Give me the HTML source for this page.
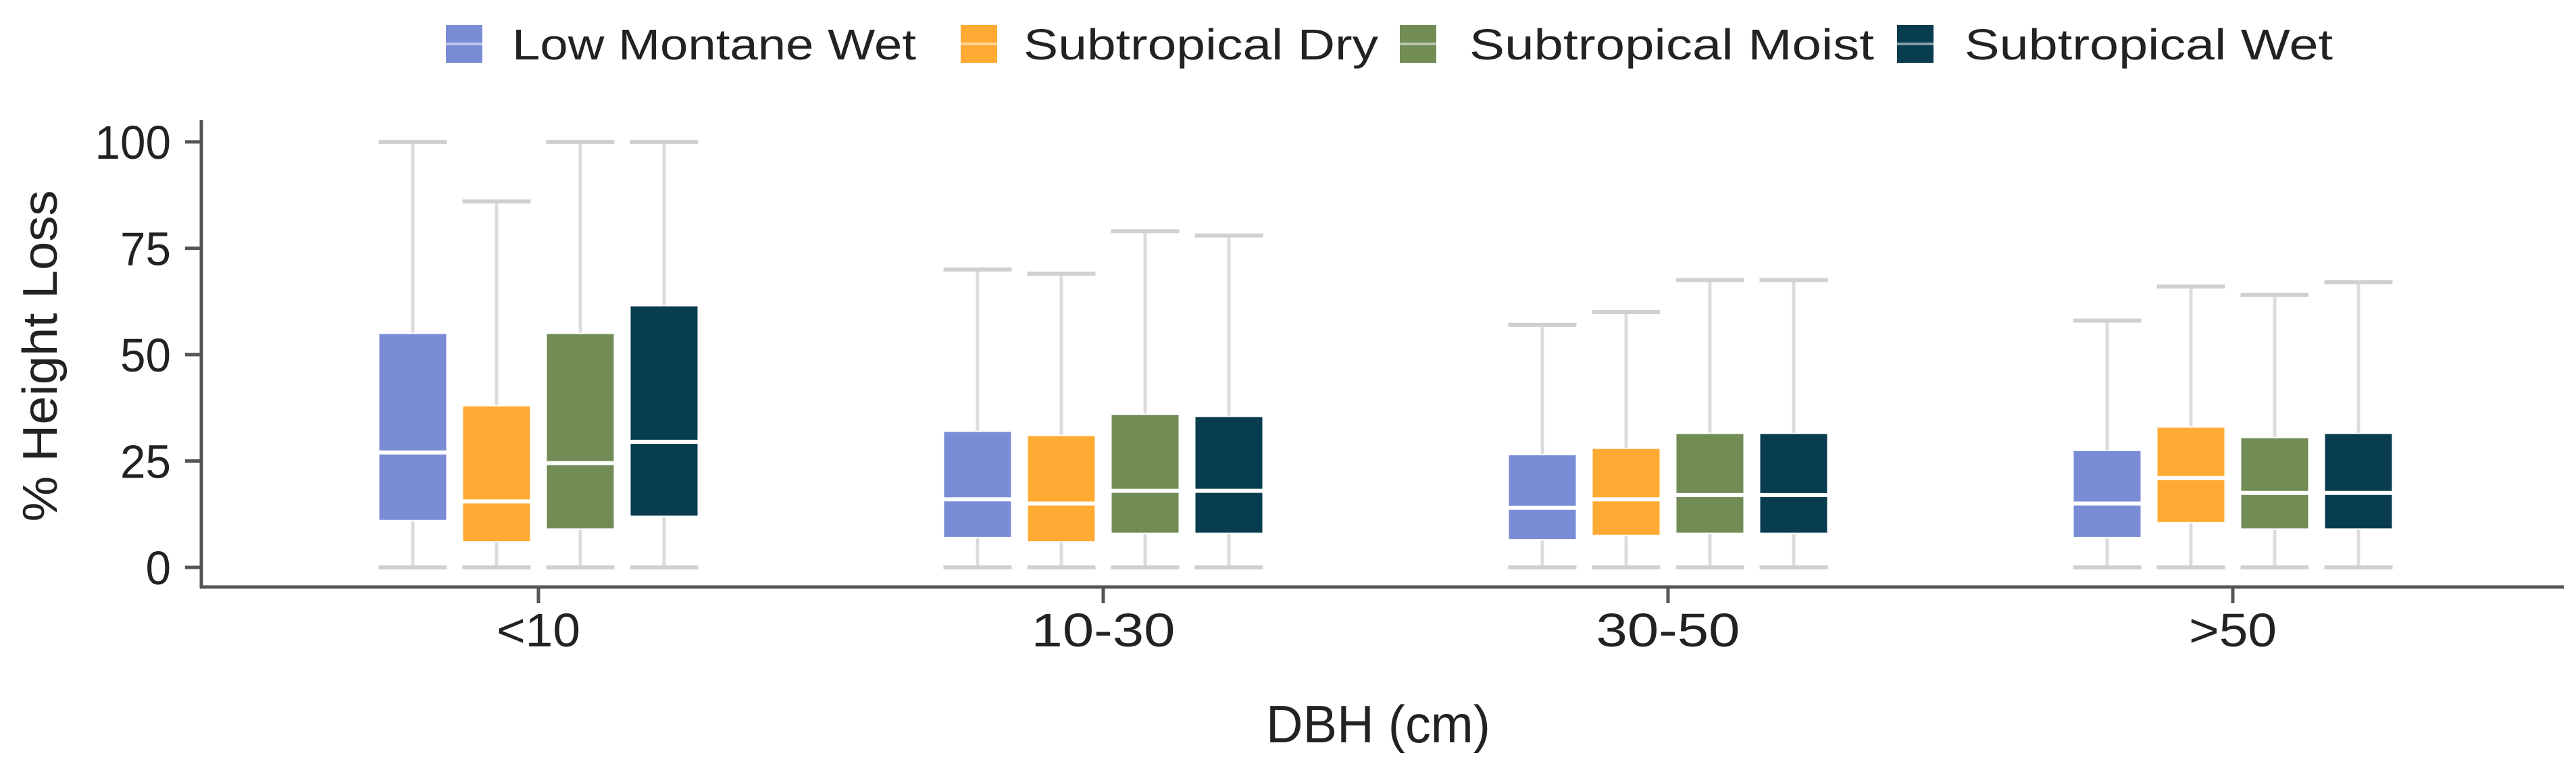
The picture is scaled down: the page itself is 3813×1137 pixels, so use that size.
<!DOCTYPE html>
<html><head><meta charset="utf-8"><style>html,body{margin:0;padding:0;background:#fff;overflow:hidden}svg{display:block}text{font-family:"Liberation Sans",Arial,sans-serif;fill:#222}</style></head>
<body>
<svg id="chart" width="3813" height="1137" viewBox="0 0 3813 1137" xmlns="http://www.w3.org/2000/svg">
<g id="legend"></g>
<g id="axes"></g>
<g id="boxes"></g>
</svg>
<script>
const categories = ["<10","10-30","30-50",">50"];
const seriesNames = ["Low Montane Wet","Subtropical Dry","Subtropical Moist","Subtropical Wet"];
const yTicks = [0,25,50,75,100];
// [whiskerLow, q1, median, q3, whiskerHigh] per category for each series
const lowMontaneWet = [[0,11,27,55,100],[0,7,16,32,70],[0,6.5,14,26.5,57],[0,7,15,27.5,58]];
const subtropicalDry = [[0,6,15.5,38,86],[0,6,15,31,69],[0,7.5,16,28,60],[0,10.5,21,33,66]];
const subtropicalMoist = [[0,9,24.5,55,100],[0,8,18,36,79],[0,8,17,31.5,67.5],[0,9,17.5,30.5,64]];
const subtropicalWet = [[0,12,29.5,61.5,100],[0,8,18,35.5,78],[0,8,17,31.5,67.5],[0,9,17.5,31.5,67]];
const seriesData = [lowMontaneWet, subtropicalDry, subtropicalMoist, subtropicalWet];
const colors = ["#7B8CD6","#FFAB33","#728C56","#083D4F"];

const NS="http://www.w3.org/2000/svg";
function mk(tag, attrs, parent){const e=document.createElementNS(NS,tag);for(const k in attrs)e.setAttribute(k,attrs[k]);parent.appendChild(e);return e;}
const y = v => 840 - v*6.3;
const xCat = i => 797 + i*836;
const offsets=[-186,-62,62,186];
const bw=101;
const axes=document.getElementById('axes');
const boxes=document.getElementById('boxes');
const legend=document.getElementById('legend');

let a=mk('line',{x1:298,y1:178,x2:298,y2:871,stroke:'#555','stroke-width':5},axes);


a=mk('line',{x1:296,y1:869,x2:3795,y2:869,stroke:'#555','stroke-width':5},axes);


yTicks.forEach(t=>{
  const tk=mk('line',{x1:274,y1:y(t),x2:298,y2:y(t),stroke:'#555','stroke-width':5},axes);
  
  
  const s=String(t);
  const tx=mk('text',{x:253,y:y(t)+25,'text-anchor':'end','font-size':70,textLength:s.length*37.5,lengthAdjust:'spacingAndGlyphs'},axes);
  tx.textContent=s;
  
  
});
const xw={"<10":124,"10-30":213,"30-50":213,">50":130};
categories.forEach((c,i)=>{
  const tk=mk('line',{x1:xCat(i),y1:869,x2:xCat(i),y2:893,stroke:'#555','stroke-width':5},axes);
  
  
  const tx=mk('text',{x:xCat(i),y:957,'text-anchor':'middle','font-size':70,textLength:xw[c],lengthAdjust:'spacingAndGlyphs'},axes);
  tx.textContent=c;
  
  
});
let t=mk('text',{x:2040,y:1099,'text-anchor':'middle','font-size':78,textLength:332,lengthAdjust:'spacingAndGlyphs'},axes);
t.textContent='DBH (cm)';


t=mk('text',{x:0,y:0,'text-anchor':'middle','font-size':72,textLength:491,lengthAdjust:'spacingAndGlyphs',transform:'translate(84,527) rotate(-90)'},axes);
t.textContent='% Height Loss';



seriesData.forEach((ser,si)=>{
  ser.forEach((d,ci)=>{
    const cx=xCat(ci)+offsets[si];
    const g=mk('g',{},boxes);
    
    
    mk('line',{x1:cx,y1:y(d[0]),x2:cx,y2:y(d[4]),stroke:'#dcdcdc','stroke-width':5},g);
    mk('line',{x1:cx-bw/2,y1:y(d[0]),x2:cx+bw/2,y2:y(d[0]),stroke:'#d0d0d0','stroke-width':6},g);
    mk('line',{x1:cx-bw/2,y1:y(d[4]),x2:cx+bw/2,y2:y(d[4]),stroke:'#d0d0d0','stroke-width':6},g);
    mk('rect',{x:cx-bw/2,y:y(d[3]),width:bw,height:y(d[1])-y(d[3]),fill:colors[si],stroke:'#fff','stroke-width':2},g);
    mk('line',{x1:cx-bw/2,y1:y(d[2]),x2:cx+bw/2,y2:y(d[2]),stroke:'#fff','stroke-width':6},g);
  });
});

const lx=[660,1422,2072,2808], tx0=[758,1515,2175,2908], tw=[598,525,599,545];
seriesNames.forEach((n,i)=>{
  const g=mk('g',{},legend);
  
  
  mk('rect',{x:lx[i],y:37,width:54,height:56,fill:colors[i]},g);
  mk('line',{x1:lx[i],y1:65,x2:lx[i]+54,y2:65,stroke:'#fff','stroke-width':4,'stroke-opacity':0.5},g);
  const tt=mk('text',{x:tx0[i],y:88,'font-size':64,textLength:tw[i],lengthAdjust:'spacingAndGlyphs'},g);
  tt.textContent=n;
});
</script>
</body></html>
